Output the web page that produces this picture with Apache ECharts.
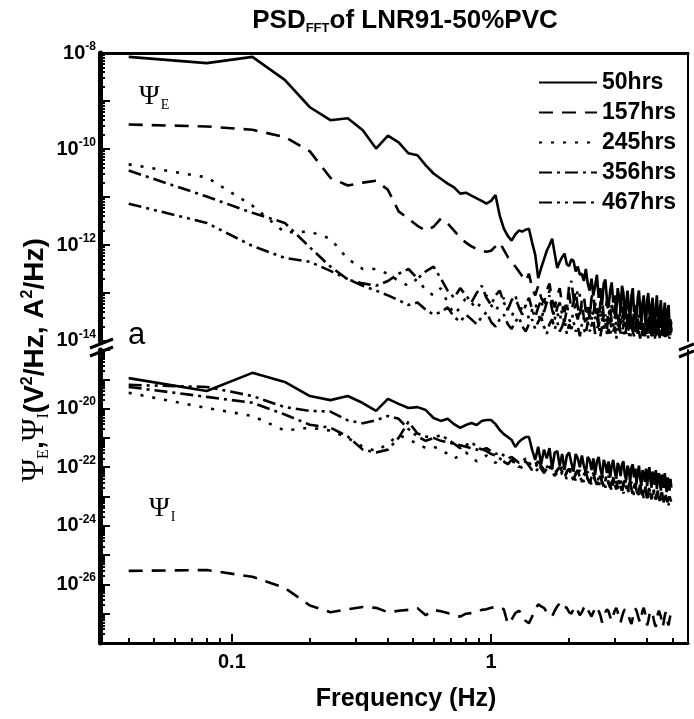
<!DOCTYPE html>
<html>
<head>
<meta charset="utf-8">
<script src="https://cdn.jsdelivr.net/npm/echarts@6/dist/echarts.min.js"></script>
<style>
    html, body { margin: 0; padding: 0; background: #fff; }
    #chart { width: 694px; height: 719px; }
</style>
</head>
<body>
<div id="chart"></div>
<script>
// FFT frequency bins (Hz)
var freq = [
    0.04, 0.08, 0.12, 0.16, 0.2, 0.24, 0.28, 0.32, 0.36, 0.4,
    0.44, 0.48, 0.52, 0.56, 0.6, 0.64, 0.68, 0.72, 0.76, 0.8,
    0.84, 0.88, 0.92, 0.96, 1, 1.04, 1.08, 1.12, 1.16, 1.2,
    1.24, 1.28, 1.32, 1.36, 1.4, 1.44, 1.48, 1.52, 1.56, 1.6,
    1.64, 1.68, 1.72, 1.76, 1.8, 1.84, 1.88, 1.92, 1.96, 2,
    2.04, 2.08, 2.12, 2.16, 2.2, 2.24, 2.28, 2.32, 2.36, 2.4,
    2.44, 2.48, 2.52, 2.56, 2.6, 2.64, 2.68, 2.72, 2.76, 2.8,
    2.84, 2.88, 2.92, 2.96, 3, 3.04, 3.08, 3.12, 3.16, 3.2,
    3.24, 3.28, 3.32, 3.36, 3.4, 3.44, 3.48, 3.52, 3.56, 3.6,
    3.64, 3.68, 3.72, 3.76, 3.8, 3.84, 3.88, 3.92, 3.96, 4,
    4.04, 4.08, 4.12, 4.16, 4.2, 4.24, 4.28, 4.32, 4.36, 4.4,
    4.44, 4.48, 4.52, 4.56, 4.6, 4.64, 4.68, 4.72, 4.76, 4.8,
    4.84, 4.88, 4.92, 4.96
];
var hours = ['50hrs', '157hrs', '245hrs', '356hrs', '467hrs'];
var topTickLabels = [1e-8, 1e-10, 1e-12, 1e-14];
var bottomTickLabels = [1e-20, 1e-22, 1e-24, 1e-26];
var xTickLabels = [0.1, 1];

// Psi_E (top panel), log10 of V^2/Hz
var psiE50 = [
    -8.08, -8.21, -8.08, -8.56, -9.13, -9.40, -9.36, -9.61, -9.99, -9.72,
    -9.86, -10.09, -10.13, -10.34, -10.51, -10.62, -10.72, -10.80, -10.93, -10.91,
    -10.97, -11.03, -11.08, -11.14, -11.08, -10.96, -11.39, -11.66, -11.81, -11.91,
    -11.78, -11.70, -11.72, -11.68, -11.66, -11.95, -12.20, -12.69, -12.48, -12.30,
    -12.12, -12.00, -11.87, -12.18, -12.48, -12.35, -12.25, -12.18, -12.40, -12.44,
    -12.30, -12.33, -12.55, -12.45, -12.62, -12.60, -12.75, -12.50, -12.80, -12.95,
    -12.70, -13.05, -12.85, -12.62, -13.10, -12.90, -13.25, -12.80, -12.72, -13.15,
    -13.30, -12.95, -12.78, -13.20, -13.05, -13.40, -12.90, -13.10, -13.35, -12.85,
    -13.00, -13.45, -13.20, -12.95, -13.30, -13.55, -13.05, -12.90, -13.40, -13.25,
    -13.50, -13.10, -12.95, -13.35, -13.60, -13.20, -13.05, -13.45, -13.70, -13.15,
    -13.00, -13.40, -13.65, -13.25, -13.10, -13.55, -13.75, -13.30, -13.05, -13.45,
    -13.70, -13.35, -13.15, -13.60, -13.80, -13.40, -13.20, -13.65, -13.85, -13.35,
    -13.25, -13.70, -13.55, -13.80
];
var psiE157 = [
    -9.49, -9.53, -9.60, -9.75, -10.05, -10.60, -10.76, -10.70, -10.66, -10.85,
    -11.30, -11.45, -11.60, -11.70, -11.62, -11.45, -11.55, -11.70, -11.85, -11.95,
    -12.03, -12.08, -12.12, -12.14, -12.12, -12.03, -11.95, -12.10, -12.25, -12.35,
    -12.45, -12.55, -12.65, -12.75, -12.60, -12.90, -13.05, -12.85, -13.10, -13.20,
    -12.95, -12.80, -13.15, -13.30, -13.05, -12.90, -13.25, -13.40, -13.10, -13.00,
    -13.35, -13.20, -12.95, -13.30, -13.50, -13.15, -13.05, -13.40, -13.25, -13.55,
    -13.10, -13.00, -13.45, -13.30, -13.60, -13.20, -13.10, -13.50, -13.35, -13.15,
    -13.55, -13.65, -13.25, -13.40, -13.20, -13.60, -13.45, -13.70, -13.30, -13.15,
    -13.50, -13.65, -13.35, -13.25, -13.70, -13.45, -13.55, -13.80, -13.30, -13.40,
    -13.65, -13.50, -13.75, -13.35, -13.45, -13.80, -13.55, -13.40, -13.70, -13.85,
    -13.45, -13.60, -13.75, -13.50, -13.85, -13.40, -13.65, -13.90, -13.55, -13.70,
    -13.50, -13.80, -13.60, -13.45, -13.85, -13.70, -13.55, -13.90, -13.65, -13.75,
    -13.50, -13.85, -13.70, -13.60
];
var psiE245 = [
    -10.32, -10.59, -11.18, -11.74, -11.72, -11.87, -12.29, -12.50, -12.50, -12.60,
    -12.75, -12.85, -12.70, -12.95, -13.05, -12.90, -13.20, -13.45, -13.30, -13.10,
    -13.20, -13.35, -13.15, -13.05, -13.25, -13.40, -13.20, -13.10, -13.35, -13.50,
    -13.30, -13.15, -13.40, -13.25, -13.55, -13.35, -13.20, -13.45, -13.60, -13.30,
    -13.15, -12.95, -13.25, -13.50, -13.40, -13.60, -13.30, -13.45, -13.20, -13.55,
    -13.65, -13.35, -13.25, -12.90, -13.05, -13.40, -13.55, -13.30, -13.60, -13.45,
    -13.70, -13.35, -13.50, -13.65, -13.40, -13.30, -13.55, -13.75, -13.45, -13.60,
    -13.35, -13.50, -13.80, -13.55, -13.40, -13.65, -13.70, -13.45, -13.60, -13.85,
    -13.50, -13.40, -13.70, -13.60, -13.80, -13.45, -13.55, -13.75, -13.65, -13.50,
    -13.85, -13.60, -13.45, -13.75, -13.55, -13.90, -13.65, -13.50, -13.80, -13.70,
    -13.55, -13.85, -13.65, -13.75, -13.90, -13.60, -13.50, -13.80, -13.70, -13.85,
    -13.60, -13.75, -13.90, -13.65, -13.55, -13.85, -13.70, -13.80, -13.95, -13.65,
    -13.75, -13.60, -13.85, -13.70
];
var psiE356 = [
    -10.45, -10.99, -11.33, -11.54, -12.05, -12.45, -12.72, -12.80, -12.85, -12.75,
    -12.60, -12.50, -12.70, -12.55, -12.45, -12.70, -12.95, -13.10, -12.90, -13.05,
    -13.20, -13.00, -12.85, -13.10, -13.25, -13.05, -12.95, -13.20, -13.35, -13.15,
    -13.05, -13.30, -13.45, -13.25, -13.10, -13.35, -13.50, -13.30, -13.15, -13.40,
    -13.20, -13.05, -13.35, -13.55, -13.30, -13.20, -13.45, -13.60, -13.35, -12.85,
    -12.75, -13.10, -13.40, -13.55, -13.35, -13.25, -13.50, -13.65, -13.40, -13.30,
    -13.55, -13.45, -13.20, -13.50, -13.70, -13.45, -13.35, -13.60, -13.50, -13.75,
    -13.45, -13.30, -13.60, -13.70, -13.50, -13.40, -13.65, -13.80, -13.55, -13.45,
    -13.70, -13.60, -13.85, -13.50, -13.40, -13.75, -13.65, -13.55, -13.80, -13.70,
    -13.50, -13.85, -13.60, -13.75, -13.55, -13.90, -13.65, -13.70, -13.85, -13.60,
    -13.75, -13.50, -13.80, -13.70, -13.90, -13.65, -13.55, -13.85, -13.75, -13.60,
    -13.80, -13.95, -13.70, -13.60, -13.85, -13.75, -13.90, -13.65, -13.80, -13.70,
    -13.85, -13.75, -13.90, -13.80
];
var psiE467 = [
    -11.14, -11.54, -12.02, -12.27, -12.35, -12.54, -12.71, -12.85, -12.95, -13.05,
    -13.15, -13.25, -13.20, -13.35, -13.45, -13.40, -13.30, -13.50, -13.60, -13.45,
    -13.55, -13.65, -13.50, -13.40, -13.60, -13.70, -13.55, -13.45, -13.65, -13.75,
    -13.60, -13.50, -13.70, -13.80, -13.65, -13.55, -13.75, -13.60, -13.50, -13.70,
    -13.85, -13.65, -13.55, -13.75, -13.60, -13.80, -13.70, -13.55, -13.85, -13.65,
    -13.75, -13.60, -13.80, -13.70, -13.90, -13.65, -13.75, -13.85, -13.60, -13.80,
    -13.70, -13.55, -13.85, -13.75, -13.65, -13.90, -13.70, -13.80, -13.60, -13.85,
    -13.75, -13.90, -13.65, -13.80, -13.70, -13.95, -13.75, -13.60, -13.85, -13.80,
    -13.70, -13.90, -13.75, -13.65, -13.85, -13.95, -13.70, -13.80, -13.90, -13.75,
    -13.65, -13.85, -13.80, -13.95, -13.70, -13.85, -13.75, -13.90, -13.80, -13.70,
    -13.95, -13.85, -13.75, -13.90, -13.80, -13.70, -13.95, -13.85, -13.75, -13.90,
    -13.80, -13.95, -13.85, -13.75, -13.90, -13.80, -13.95, -13.85, -13.70, -13.90,
    -13.85, -13.95, -13.80, -13.90
];

// Psi_I (bottom panel), log10 of A^2/Hz
var psiI50 = [
    -18.96, -19.40, -18.78, -19.09, -19.57, -19.71, -19.57, -19.81, -20.08, -19.67,
    -19.84, -19.98, -19.95, -20.05, -20.32, -20.42, -20.35, -20.53, -20.66, -20.56,
    -20.49, -20.56, -20.42, -20.39, -20.39, -20.53, -20.73, -20.87, -20.97, -21.07,
    -21.31, -21.14, -21.04, -20.97, -20.97, -21.41, -21.75, -21.30, -21.90, -21.40,
    -21.70, -21.35, -22.05, -21.50, -21.45, -21.95, -21.55, -22.10, -21.60, -21.50,
    -21.85, -22.15, -21.55, -21.70, -22.00, -21.60, -21.95, -22.20, -21.65, -21.75,
    -22.10, -21.70, -22.25, -21.80, -21.65, -22.05, -22.30, -21.75, -21.90, -22.20,
    -21.80, -22.35, -21.95, -21.75, -22.15, -22.40, -21.85, -22.00, -22.30, -21.90,
    -21.80, -22.25, -22.45, -21.95, -22.10, -22.50, -22.00, -21.90, -22.35, -22.05,
    -22.55, -22.15, -21.95, -22.40, -22.60, -22.10, -22.25, -22.50, -22.05, -22.65,
    -22.20, -22.00, -22.45, -22.70, -22.15, -22.35, -22.60, -22.10, -22.75, -22.30,
    -22.20, -22.55, -22.80, -22.25, -22.45, -22.70, -22.20, -22.65, -22.85, -22.35,
    -22.50, -22.80, -22.40, -22.70
];
var psiI157 = [
    -25.54, -25.51, -25.74, -26.12, -26.72, -26.95, -26.85, -26.77, -26.80, -26.95,
    -26.90, -26.87, -26.81, -27.05, -26.87, -26.92, -26.98, -27.05, -27.10, -27.00,
    -26.98, -26.95, -26.87, -26.85, -26.80, -26.77, -26.77, -26.85, -27.35, -27.20,
    -26.98, -26.90, -27.00, -27.25, -27.32, -27.10, -26.85, -26.68, -26.75, -26.80,
    -26.95, -27.05, -27.10, -26.90, -26.75, -26.65, -26.60, -26.77, -26.80, -26.95,
    -27.00, -26.85, -26.75, -26.90, -27.05, -26.95, -26.80, -26.70, -26.85, -26.98,
    -27.10, -26.95, -26.82, -26.75, -26.90, -27.05, -27.30, -27.15, -26.95, -26.85,
    -26.92, -27.10, -27.25, -27.05, -26.90, -26.80, -26.95, -27.15, -27.30, -27.10,
    -26.95, -26.85, -26.80, -26.95, -27.10, -27.25, -27.35, -27.15, -26.95, -26.82,
    -26.90, -27.05, -27.20, -27.30, -27.10, -26.90, -26.80, -26.95, -27.15, -27.40,
    -27.25, -27.05, -26.90, -26.85, -27.00, -27.20, -27.35, -27.45, -27.20, -27.00,
    -26.90, -26.95, -27.10, -27.30, -27.45, -27.25, -27.05, -26.95, -27.10, -27.30,
    -27.40, -27.20, -27.05, -27.30
];
var psiI245 = [
    -19.46, -19.98, -20.25, -20.75, -20.65, -20.75, -21.00, -21.30, -21.45, -21.20,
    -20.90, -21.05, -21.20, -21.35, -21.30, -21.40, -21.55, -21.70, -21.60, -21.50,
    -21.65, -21.80, -21.70, -21.60, -21.75, -21.85, -21.70, -21.80, -21.95, -21.85,
    -21.75, -21.90, -22.05, -21.95, -21.85, -22.00, -22.15, -22.05, -21.90, -22.10,
    -22.20, -22.00, -21.95, -22.15, -22.30, -22.10, -22.00, -22.25, -22.40, -22.15,
    -22.05, -22.30, -22.45, -22.20, -22.10, -22.35, -22.50, -22.25, -22.15, -22.40,
    -22.60, -22.30, -22.20, -22.45, -22.75, -22.35, -22.25, -22.50, -22.70, -22.40,
    -22.30, -22.55, -22.85, -22.45, -22.35, -22.60, -22.80, -22.50, -22.40, -22.65,
    -22.90, -22.55, -22.45, -22.70, -22.85, -22.60, -22.50, -22.75, -22.95, -22.65,
    -22.55, -22.80, -22.95, -22.70, -22.60, -22.85, -23.05, -22.75, -22.65, -22.90,
    -23.10, -22.80, -22.70, -22.95, -23.15, -22.85, -22.75, -23.00, -23.20, -22.90,
    -22.80, -23.05, -23.25, -22.95, -22.85, -23.10, -23.20, -22.95, -22.90, -23.15,
    -23.30, -23.00, -22.95, -23.20
];
var psiI356 = [
    -19.26, -19.60, -19.80, -20.20, -20.55, -20.65, -20.95, -21.40, -21.50, -21.40,
    -21.00, -20.45, -20.85, -20.95, -21.00, -21.10, -21.15, -21.20, -21.25, -21.30,
    -21.35, -21.40, -21.38, -21.45, -21.55, -21.60, -21.70, -21.80, -21.90, -21.75,
    -21.85, -22.00, -21.90, -21.80, -21.95, -22.10, -22.00, -21.85, -22.05, -22.20,
    -22.05, -21.95, -22.15, -22.30, -22.10, -22.00, -22.25, -22.35, -22.15, -22.05,
    -22.30, -22.45, -22.20, -22.10, -22.35, -22.50, -22.25, -22.15, -22.40, -22.55,
    -22.30, -22.20, -22.45, -22.60, -22.35, -22.25, -22.50, -22.65, -22.40, -22.30,
    -22.55, -22.70, -22.45, -22.35, -22.60, -22.75, -22.50, -22.40, -22.65, -22.80,
    -22.55, -22.45, -22.70, -22.85, -22.60, -22.50, -22.75, -22.90, -22.65, -22.55,
    -22.80, -22.95, -22.70, -22.60, -22.85, -23.00, -22.75, -22.65, -22.90, -23.05,
    -22.80, -22.70, -22.95, -23.10, -22.85, -22.75, -23.00, -23.10, -22.90, -22.80,
    -23.05, -23.15, -22.95, -22.85, -23.05, -23.20, -22.95, -22.90, -23.10, -23.20,
    -23.00, -22.95, -23.15, -23.10
];
var psiI467 = [
    -19.19, -19.26, -19.57, -19.95, -20.08, -20.10, -20.40, -20.50, -20.40, -20.25,
    -20.35, -20.70, -20.95, -21.10, -21.00, -20.90, -21.05, -21.20, -21.35, -21.25,
    -21.15, -21.30, -21.40, -21.35, -21.45, -21.55, -21.50, -21.60, -21.70, -21.65,
    -21.75, -21.85, -21.80, -21.70, -21.85, -21.95, -21.90, -21.80, -21.95, -22.10,
    -22.00, -21.90, -22.05, -22.20, -22.10, -22.00, -22.15, -22.30, -22.20, -22.05,
    -22.25, -22.40, -22.25, -22.15, -22.35, -22.45, -22.30, -22.20, -22.40, -22.55,
    -22.35, -22.25, -22.45, -22.60, -22.40, -22.30, -22.50, -22.65, -22.45, -22.35,
    -22.55, -22.70, -22.50, -22.40, -22.60, -22.75, -22.55, -22.45, -22.65, -22.80,
    -22.60, -22.50, -22.70, -22.85, -22.65, -22.55, -22.75, -22.90, -22.70, -22.60,
    -22.80, -22.95, -22.75, -22.65, -22.85, -23.00, -22.80, -22.70, -22.90, -23.05,
    -22.85, -22.75, -22.95, -23.05, -22.90, -22.80, -23.00, -23.10, -22.95, -22.85,
    -23.05, -23.15, -23.00, -22.90, -23.10, -23.20, -23.00, -22.95, -23.10, -23.15,
    -23.05, -22.95, -23.15, -23.10
];

var psiE = [psiE50, psiE157, psiE245, psiE356, psiE467];
var psiI = [psiI50, psiI157, psiI245, psiI356, psiI467];

var FONT = '"Liberation Sans", Arial, sans-serif';
var SERIF = '"Liberation Serif", "Times New Roman", serif';

// line dash patterns for the five aging times
var dashes = ['solid', [14, 9], [3, 9], [13, 5, 3, 5], [13, 5, 3, 5, 3, 5]];

function toPairs(xs, logs) {
    var out = [];
    for (var i = 0; i < xs.length; i++) {
        out.push([xs[i], Math.pow(10, logs[i])]);
    }
    return out;
}

// minor tick positions: 2..9 inside every decade
function minorTicks(lo, hi) {
    var t = [];
    for (var d = lo; d < hi; d++) {
        for (var m = 2; m <= 9; m++) {
            t.push(m * Math.pow(10, d));
        }
    }
    return t;
}
function decades(lo, hi) {
    var t = [];
    for (var d = lo; d <= hi; d++) t.push(Math.pow(10, d));
    return t;
}

function powLabel(v) {
    var e = Math.round(Math.log(v) / Math.LN10);
    return '{b|10}{s|' + e + '}';
}
var powRich = {
    b: { fontFamily: FONT, fontWeight: 'bold', fontSize: 20, color: '#000', lineHeight: 24 },
    s: { fontFamily: FONT, fontWeight: 'bold', fontSize: 12, color: '#000', padding: [0, 0, 13, 0] }
};

var X_MIN = 0.031, X_MAX = 5.75;

function frameAxis(grid, pos, width) {
    return {
        gridIndex: grid, type: 'value', position: pos, min: 0, max: 1,
        axisLine: { show: true, onZero: false, lineStyle: { color: '#000', width: width } },
        axisTick: { show: false }, axisLabel: { show: false }, splitLine: { show: false }
    };
}
function logY(grid, lo, hi, major, labels) {
    return {
        gridIndex: grid, type: 'log', position: 'left',
        min: Math.pow(10, lo) * 0.999, max: Math.pow(10, hi) * 1.001,
        axisLine: { show: major, onZero: false, lineStyle: { color: '#000', width: 5 } },
        axisTick: {
            show: true, inside: true, length: major ? 10 : 5,
            customValues: major ? decades(lo, hi) : minorTicks(lo, hi),
            lineStyle: { color: '#000', width: 2 }
        },
        axisLabel: major ? {
            show: true, customValues: labels, formatter: powLabel, rich: powRich, margin: 4
        } : { show: false },
        splitLine: { show: false }
    };
}

var series = [];
for (var h = 0; h < hours.length; h++) {
    var ls = { color: '#000', width: 2.6, type: dashes[h] };
    series.push({
        name: hours[h], type: 'line', xAxisIndex: 0, yAxisIndex: 0,
        symbol: 'none', lineStyle: ls, data: toPairs(freq, psiE[h]), z: 10 - h
    });
    series.push({
        name: hours[h], type: 'line', xAxisIndex: 1, yAxisIndex: 3,
        symbol: 'none', lineStyle: ls, data: toPairs(freq, psiI[h]), z: 10 - h
    });
}

var chart = echarts.init(document.getElementById('chart'), null, { renderer: 'canvas' });
var option = {
    animation: false,
    backgroundColor: '#fff',
    title: {
        text: '{a|PSD}{s|FFT}{a|of LNR91-50%PVC}',
        left: 400, top: 2, textAlign: 'center',
        textStyle: {
            rich: {
                a: { fontFamily: FONT, fontWeight: 'bold', fontSize: 26, color: '#000' },
                s: { fontFamily: FONT, fontWeight: 'bold', fontSize: 13, color: '#000', padding: [15, 0, 0, 0] }
            }
        }
    },
    legend: {
        data: hours, orient: 'vertical', left: 533, top: 66,
        itemWidth: 58, itemHeight: 14, itemGap: 7,
        itemStyle: { opacity: 0 },
        textStyle: { fontFamily: FONT, fontWeight: 'bold', fontSize: 23, color: '#000' }
    },
    grid: [
        { left: 100, top: 53, width: 588, height: 288 },
        { left: 100, top: 350, width: 588, height: 293 }
    ],
    xAxis: [
        {
            gridIndex: 0, type: 'log', position: 'top', min: X_MIN, max: X_MAX,
            axisLine: { show: true, onZero: false, lineStyle: { color: '#000', width: 3 } },
            axisTick: { show: false }, axisLabel: { show: false }, splitLine: { show: false }
        },
        {
            gridIndex: 1, type: 'log', position: 'bottom', min: X_MIN, max: X_MAX,
            axisLine: { show: true, onZero: false, lineStyle: { color: '#000', width: 3 } },
            axisTick: { show: true, inside: true, length: 9, customValues: xTickLabels, lineStyle: { color: '#000', width: 2 } },
            axisLabel: {
                show: true, customValues: xTickLabels, margin: 9,
                formatter: function (v) { return v < 0.5 ? '0.1' : '1'; },
                fontFamily: FONT, fontWeight: 'bold', fontSize: 20, color: '#000'
            },
            splitLine: { show: false },
            name: 'Frequency (Hz)', nameLocation: 'middle', nameGap: 44,
            nameTextStyle: { fontFamily: FONT, fontWeight: 'bold', fontSize: 25, color: '#000', padding: [0, 0, 0, 24] }
        },
        {
            gridIndex: 1, type: 'log', position: 'bottom', min: X_MIN, max: X_MAX,
            axisLine: { show: false },
            axisTick: {
                show: true, inside: true, length: 5,
                customValues: [0.04, 0.05, 0.06, 0.07, 0.08, 0.09, 0.2, 0.3, 0.4, 0.5, 0.6, 0.7, 0.8, 0.9, 2, 3, 4, 5],
                lineStyle: { color: '#000', width: 2 }
            },
            axisLabel: { show: false }, splitLine: { show: false }
        }
    ],
    yAxis: [
        logY(0, -14, -8, true, topTickLabels),
        logY(0, -14, -8, false),
        frameAxis(0, 'right', 2),
        logY(1, -28, -18, true, bottomTickLabels),
        logY(1, -28, -18, false),
        frameAxis(1, 'right', 2)
    ],
    graphic: [
        // axis break marks
        { type: 'line', shape: { x1: 90, y1: 348, x2: 113, y2: 339 }, style: { stroke: '#000', lineWidth: 3 } },
        { type: 'line', shape: { x1: 90, y1: 356, x2: 113, y2: 347 }, style: { stroke: '#000', lineWidth: 3 } },
        { type: 'line', shape: { x1: 679, y1: 350, x2: 694, y2: 344 }, style: { stroke: '#000', lineWidth: 3 } },
        { type: 'line', shape: { x1: 679, y1: 357, x2: 694, y2: 351 }, style: { stroke: '#000', lineWidth: 3 } },
        {
            type: 'text', x: 139, y: 81,
            style: {
                text: '{p|Ψ}{s|E}',
                rich: {
                    p: { fontFamily: SERIF, fontSize: 28, fill: '#000' },
                    s: { fontFamily: SERIF, fontSize: 14, fill: '#000', padding: [17, 0, 0, 1] }
                }
            }
        },
        {
            type: 'text', x: 149, y: 493,
            style: {
                text: '{p|Ψ}{s|I}',
                rich: {
                    p: { fontFamily: SERIF, fontSize: 28, fill: '#000' },
                    s: { fontFamily: SERIF, fontSize: 14, fill: '#000', padding: [17, 0, 0, 1] }
                }
            }
        },
        {
            type: 'text', x: 128, y: 320,
            style: { text: 'a', fontFamily: FONT, fontSize: 31, fill: '#000' }
        },
        {
            type: 'text', x: 35, y: 360, rotation: Math.PI / 2,
            style: {
                text: '{p|Ψ}{u|E}{c|,}{p|Ψ}{u|I}{c|(V}{t|2}{c|/Hz, A}{t|2}{c|/Hz)}',
                align: 'center', verticalAlign: 'middle',
                rich: {
                    p: { fontFamily: SERIF, fontSize: 31, fill: '#000' },
                    u: { fontFamily: SERIF, fontSize: 16, fill: '#000', padding: [17, 0, 0, 0] },
                    c: { fontFamily: FONT, fontWeight: 'bold', fontSize: 28, fill: '#000' },
                    t: { fontFamily: FONT, fontWeight: 'bold', fontSize: 16, fill: '#000', padding: [0, 0, 14, 0] }
                }
            }
        }
    ],
    series: series
};
chart.setOption(option);
</script>
</body>
</html>
